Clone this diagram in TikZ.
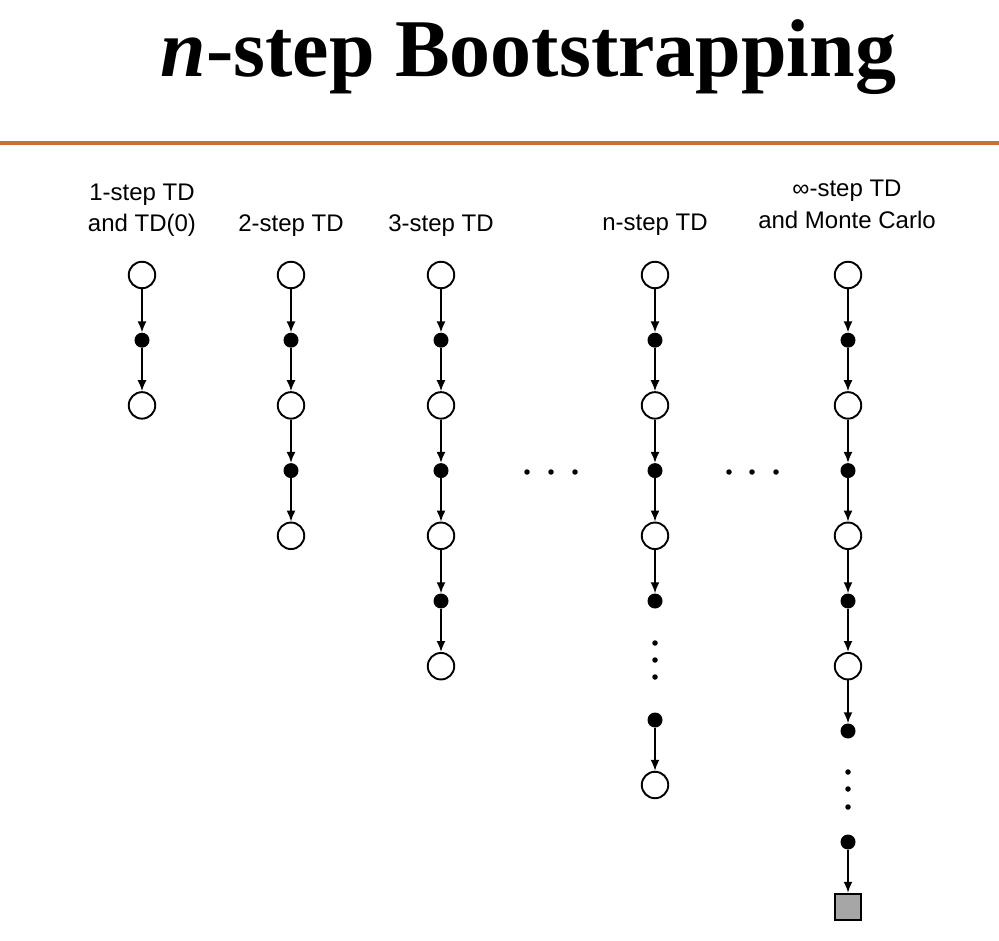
\documentclass[tikz,border=0pt]{standalone}
\usepackage{fontspec}
\setmainfont{Liberation Sans}
\newfontfamily\titlefont{Liberation Serif}
\usetikzlibrary{arrows.meta}
\definecolor{rulecol}{RGB}{202,110,50}
\begin{document}
\begin{tikzpicture}[x=1pt,y=-1pt,
 state/.style={circle,draw,line width=1.9pt,minimum size=26.5pt,inner sep=0pt,fill=white},
 act/.style={circle,fill=black,minimum size=15pt,inner sep=0pt},
 term/.style={rectangle,draw,line width=1.9pt,fill=black!35,minimum size=26.5pt,inner sep=0pt},
 sdot/.style={circle,fill=black,minimum size=5.5pt,inner sep=0pt},
 flow/.style={-{Latex[length=11pt,width=9pt]},line width=1.8pt},
 lab/.style={font=\fontsize{24}{28}\selectfont,anchor=base,inner sep=0pt},
]
\useasboundingbox (0,0) rectangle (999,941);
% title and rule
\node[anchor=base,inner sep=0pt,font=\titlefont\bfseries\fontsize{82}{90}\selectfont] (title) at (528.5,77) {\textit{n}-step Bootstrapping};
\coordinate (ruleL) at (0,143);
\coordinate (ruleR) at (999,143);
\draw[rulecol,line width=3.6pt] (ruleL) -- (ruleR);
% labels
\node[lab] (l1a) at (142,201) {1-step TD};
\node[lab] (l1b) at (142,232) {and TD(0)};
\node[lab] (l2) at (291,232) {2-step TD};
\node[lab] (l3) at (441,232) {3-step TD};
\node[lab] (l4) at (655,231) {n-step TD};
\node[lab] (l5a) at (847,197) {∞-step TD};
\node[lab] (l5b) at (847,229) {and Monte Carlo};
% backup chains
\foreach \c/\x/\n in {1/142/1,2/291/2,3/441/3,4/655/2,5/848/3}{
  \node[state] (c\c s0) at (\x,275) {};
  \foreach \i [evaluate=\i as \ys using 275+130.4*\i,
               evaluate=\i as \ya using 275+130.4*\i-65.2,
               evaluate=\i as \p using int(\i-1)] in {1,...,\n}{
    \node[act] (c\c a\i) at (\x,\ya) {};
    \node[state] (c\c s\i) at (\x,\ys) {};
    \draw[flow] (c\c s\p) -- (c\c a\i);
    \draw[flow] (c\c a\i) -- (c\c s\i);
  }
}
% n-step column tail
\node[act] (c4a3) at (655,601) {};
\draw[flow] (c4s2) -- (c4a3);
\node[sdot] (c4d1) at (655,643) {};
\node[sdot] (c4d2) at (655,660) {};
\node[sdot] (c4d3) at (655,677) {};
\node[act] (c4aN) at (655,720) {};
\node[state] (c4sN) at (655,785) {};
\draw[flow] (c4aN) -- (c4sN);
% infinity column tail
\node[act] (c5a4) at (848,731) {};
\draw[flow] (c5s3) -- (c5a4);
\node[sdot] (c5d1) at (848,772) {};
\node[sdot] (c5d2) at (848,789) {};
\node[sdot] (c5d3) at (848,807) {};
\node[act] (c5aN) at (848,842) {};
\node[term] (c5T) at (848,907) {};
\draw[flow] (c5aN) -- (c5T);
% horizontal ellipses
\node[sdot] (hd1) at (527,472) {};
\node[sdot] (hd2) at (551,472) {};
\node[sdot] (hd3) at (575,472) {};
\node[sdot] (hd4) at (729,472) {};
\node[sdot] (hd5) at (752,472) {};
\node[sdot] (hd6) at (776,472) {};
\end{tikzpicture}
\end{document}
